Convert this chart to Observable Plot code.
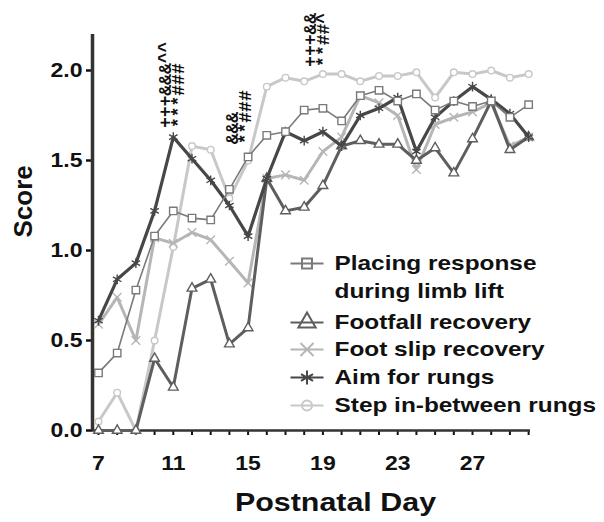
<!DOCTYPE html>
<html><head><meta charset="utf-8">
<script src="https://cdn.jsdelivr.net/npm/d3@7"></script>
<script src="https://cdn.jsdelivr.net/npm/@observablehq/plot@0.6"></script>
<style>
html,body{margin:0;padding:0;background:#fff;}
#chart svg{display:block;}
</style></head>
<body><div id="chart"></div>
<script>
// ---------- data ----------
const days = [7,8,9,10,11,12,13,14,15,16,17,18,19,20,21,22,23,24,25,26,27,28,29,30];
const seriesNames = ["Placing response\nduring limb lift","Footfall recovery","Foot slip recovery","Aim for rungs","Step in-between rungs"];
const placing  = [0.32,0.43,0.78,1.08,1.22,1.18,1.17,1.34,1.52,1.64,1.66,1.78,1.79,1.72,1.86,1.89,1.83,1.87,1.78,1.83,1.80,1.83,1.74,1.81];
const footfall = [0.00,0.00,0.00,0.40,0.24,0.79,0.84,0.48,0.57,1.40,1.22,1.24,1.36,1.58,1.61,1.59,1.59,1.50,1.57,1.43,1.62,1.83,1.56,1.63];
const footSlip = [0.59,0.74,0.50,1.07,1.04,1.10,1.06,0.94,0.82,1.40,1.42,1.39,1.55,1.63,1.86,1.82,1.75,1.45,1.70,1.74,1.77,1.82,1.58,1.63];
const aim      = [0.61,0.84,0.93,1.22,1.63,1.51,1.39,1.25,1.08,1.40,1.66,1.61,1.66,1.58,1.75,1.79,1.85,1.55,1.74,1.83,1.91,1.84,1.76,1.63];
const step     = [0.05,0.21,0.00,0.50,1.02,1.58,1.56,1.29,1.50,1.91,1.96,1.94,1.98,1.98,1.94,1.97,1.97,1.99,1.85,1.99,1.98,2.00,1.96,1.98];
const yTicks = [0, 0.5, 1.0, 1.5, 2.0];
const xTickLabels = [7, 11, 15, 19, 23, 27];
const annotDays   = [10.58, 11.28, 14.17, 14.86, 18.34, 19.03];
const annotValues = [1.68, 1.68, 1.59, 1.59, 2.02, 2.02];
const annotLabels = ["+++&&&^^", "***###", "&&&", "**###", "+++&&", "**##^"];
const xTitle = "Postnatal Day";
const yTitle = "Score";

// ---------- styles ----------
const seriesValues = [placing, footfall, footSlip, aim, step];
const seriesStyle = [
  {color:"#7a7a7a", width:1.6, symbol:"square",   r:4.2, legR:5.6},
  {color:"#5e5e5e", width:3.0, symbol:"triangle", r:3.6, legR:6.4},
  {color:"#b6b6b6", width:3.0, symbol:"times",    r:4.0, legR:6.0},
  {color:"#474747", width:3.2, symbol:"asterisk", r:4.6, legR:6.6},
  {color:"#c8c8c8", width:3.0, symbol:"circle",   r:3.3, legR:5.0}
];
const drawOrder = [4, 2, 1, 3, 0];
const legendRowY = [263, 322, 349, 377, 405];
const d3Sym = {square:d3.symbolSquare, triangle:d3.symbolTriangle, times:d3.symbolTimes, asterisk:d3.symbolAsterisk, circle:d3.symbolCircle};
const withLine = (sym, half) => ({draw(ctx, size){ ctx.moveTo(-half, 0); ctx.lineTo(half, 0); sym.draw(ctx, size); }});

const W = 604, H = 522, mL = 92, mR = 74, mT = 34, mB = 92;
const xDomain = [6.68, 30.1], yDomain = [0, 2.2];
const xs = d3.scaleLinear(xDomain, [mL, W - mR]);
const ys = d3.scaleLinear(yDomain, [H - mB, mT]);

const marks = [];
marks.push(Plot.axisY(yTicks, {tickSize:6, tickPadding:4, tickFormat:d3.format(".1f"), fontSize:20, strokeWidth:2.5, label:null}));
marks.push(Plot.axisX(days, {tickSize:5, tickPadding:20, tickFormat:d => xTickLabels.includes(d) ? String(d) : "", fontSize:20, strokeWidth:2, label:null}));
marks.push(Plot.ruleY([0], {stroke:"#333", strokeWidth:2.5}));
marks.push(Plot.ruleX([xDomain[0]], {y1:yDomain[0], y2:yDomain[1], stroke:"#333", strokeWidth:3.5}));

for (const i of drawOrder) {
  const s = seriesStyle[i];
  const rows = days.map((d, k) => ({day:d, value:seriesValues[i][k]}));
  marks.push(Plot.line(rows, {x:"day", y:"value", stroke:s.color, strokeWidth:s.width, strokeLinejoin:"round", strokeLinecap:"round"}));
  marks.push(Plot.dot(rows, {x:"day", y:"value", symbol:s.symbol, r:s.r, stroke:s.color, strokeWidth:1.4, fill:"white"}));
}

// significance annotations
marks.push(Plot.text(annotLabels.map((t, k) => ({t, day:annotDays[k], value:annotValues[k]})),
  {x:"day", y:"value", text:"t", rotate:-90, textAnchor:"start", lineAnchor:"middle",
   fontFamily:"'Liberation Mono', 'DejaVu Sans Mono', monospace", fontSize:18, fontWeight:"bold", fill:"#111"}));

// legend
const legendLines = [];
seriesNames.forEach((name, i) => name.split("\n").forEach((ln, j) => legendLines.push({text:ln, py:legendRowY[i] + j * 28})));
marks.push(Plot.text(legendLines, {x:() => xs.invert(334), y:d => ys.invert(d.py), text:"text", textAnchor:"start", lineAnchor:"middle", fontSize:20, fill:"#111"}));
seriesStyle.forEach((s, i) => {
  marks.push(Plot.dot([i], {x:() => xs.invert(306.5), y:() => ys.invert(legendRowY[i]), symbol:withLine(d3Sym[s.symbol], 16.5), r:s.legR, stroke:s.color, strokeWidth:2, fill:"white"}));
});

// axis titles
marks.push(Plot.text([xTitle], {frameAnchor:"bottom", text:d => d, dx:24, dy:80, lineAnchor:"bottom", fontSize:26, fill:"#111"}));
marks.push(Plot.text([yTitle], {frameAnchor:"left", text:d => d, dx:-69, dy:5, rotate:-90, lineAnchor:"middle", fontSize:26, fill:"#111"}));

const chart = Plot.plot({
  width:W, height:H, marginLeft:mL, marginRight:mR, marginTop:mT, marginBottom:mB,
  x:{domain:xDomain, axis:null}, y:{domain:yDomain, axis:null},
  style:{fontFamily:"'Liberation Sans', Arial, sans-serif", fontWeight:"bold", color:"#111", background:"#fff"},
  marks
});
document.getElementById("chart").append(chart);

// widen glyphs horizontally about each text's anchor (the reference image is horizontally stretched)
function stretchEl(t, k) {
  const x = parseFloat(t.getAttribute("x")) || 0;
  const tr = t.getAttribute("transform") || "";
  t.setAttribute("transform", `${tr} translate(${x},0) scale(${k},1) translate(${-x},0)`.trim());
}
chart.querySelectorAll('g[aria-label="x-axis tick label"] text').forEach(t => stretchEl(t, 1.15));
chart.querySelectorAll('g[aria-label="y-axis tick label"] text').forEach(t => stretchEl(t, 1.15));
const legendSet = new Set(legendLines.map(d => d.text));
chart.querySelectorAll("text").forEach(t => {
  const s = t.textContent;
  if (legendSet.has(s)) stretchEl(t, 1.22);
  else if (s === xTitle) stretchEl(t, 1.17);
});
</script>
</body></html>
